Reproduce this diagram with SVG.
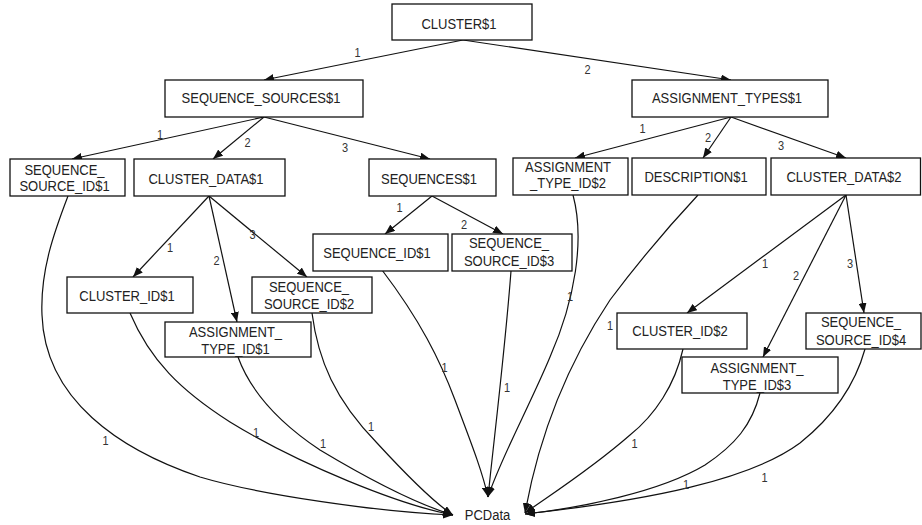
<svg xmlns="http://www.w3.org/2000/svg" width="922" height="525" viewBox="0 0 922 525">
<defs>
<style>
.box{fill:#fff;stroke:#111;stroke-width:1.3}
.t{font-family:"Liberation Sans",Arial,sans-serif;font-size:13px;fill:#222;text-anchor:middle}
.l{font-family:"Liberation Sans",Arial,sans-serif;font-size:11px;fill:#333;text-anchor:middle}
.e{fill:none;stroke:#111;stroke-width:1.2;marker-end:url(#arr)}
</style>
<marker id="arr" markerUnits="userSpaceOnUse" markerWidth="10" markerHeight="8" refX="10" refY="4" orient="auto">
<path d="M0,0 L10,4 L0,8 Z" fill="#111"/>
</marker>
</defs>
<rect width="922" height="525" fill="#fff"/>

<g id="connectors">
<path class="e" d="M463,40 L264,80"/>
<path class="e" d="M463,40 L731,80"/>
<path class="e" d="M264,117 L72,159"/>
<path class="e" d="M264,117 L213,159"/>
<path class="e" d="M264,117 L430,159"/>
<path class="e" d="M731,117 L575,158"/>
<path class="e" d="M731,117 L703,158"/>
<path class="e" d="M731,117 L846,158"/>
<path class="e" d="M209,196 L133,277"/>
<path class="e" d="M209,196 L237,322"/>
<path class="e" d="M209,196 L307,277"/>
<path class="e" d="M432,196 L385,234"/>
<path class="e" d="M432,196 L503,234"/>
<path class="e" d="M846,195 L687,313"/>
<path class="e" d="M846,195 L763,357"/>
<path class="e" d="M846,195 L864,313"/>
<path class="e" d="M68,196 C55,230 40,270 42,315 C45,400 120,450 200,477 C260,495 380,512 453,515"/>
<path class="e" d="M130,313 C150,360 180,390 230,422 C300,465 400,505 453,515"/>
<path class="e" d="M238,357 C250,390 275,420 320,450 C370,480 420,505 453,515"/>
<path class="e" d="M312,313 C318,360 335,400 377,443 C400,468 430,500 453,515"/>
<path class="e" d="M382,270 C420,320 440,360 455,400 C470,440 482,470 488,497"/>
<path class="e" d="M511,271 C505,350 495,430 488,497"/>
<path class="e" d="M573,195 C585,240 575,300 550,357 C530,405 500,460 488,497"/>
<path class="e" d="M698,195 C670,225 640,260 610,300 C570,360 540,430 525,513"/>
<path class="e" d="M683,349 C675,385 655,415 630,435 C590,470 550,495 525,513"/>
<path class="e" d="M760,393 C752,425 735,445 705,465 C660,492 580,508 525,514"/>
<path class="e" d="M865,349 C855,385 835,415 800,443 C750,480 650,500 525,514"/>
</g>

<g id="labels">
<text class="l" transform="translate(357.5,57.3) scale(1,1.13)">1</text>
<text class="l" transform="translate(587.5,74) scale(1,1.13)">2</text>
<text class="l" transform="translate(160,139) scale(1,1.13)">1</text>
<text class="l" transform="translate(247.5,147) scale(1,1.13)">2</text>
<text class="l" transform="translate(345,152) scale(1,1.13)">3</text>
<text class="l" transform="translate(642.5,133) scale(1,1.13)">1</text>
<text class="l" transform="translate(708,141.7) scale(1,1.13)">2</text>
<text class="l" transform="translate(781,150) scale(1,1.13)">3</text>
<text class="l" transform="translate(170,251.7) scale(1,1.13)">1</text>
<text class="l" transform="translate(216.5,265) scale(1,1.13)">2</text>
<text class="l" transform="translate(252.5,239.3) scale(1,1.13)">3</text>
<text class="l" transform="translate(399.5,211.7) scale(1,1.13)">1</text>
<text class="l" transform="translate(464,229.3) scale(1,1.13)">2</text>
<text class="l" transform="translate(765,267.7) scale(1,1.13)">1</text>
<text class="l" transform="translate(796,280) scale(1,1.13)">2</text>
<text class="l" transform="translate(850,267.7) scale(1,1.13)">3</text>
<text class="l" transform="translate(105.5,445) scale(1,1.13)">1</text>
<text class="l" transform="translate(256,436.7) scale(1,1.13)">1</text>
<text class="l" transform="translate(323,448) scale(1,1.13)">1</text>
<text class="l" transform="translate(371,430.7) scale(1,1.13)">1</text>
<text class="l" transform="translate(444.5,371.7) scale(1,1.13)">1</text>
<text class="l" transform="translate(507,391.7) scale(1,1.13)">1</text>
<text class="l" transform="translate(570,300.7) scale(1,1.13)">1</text>
<text class="l" transform="translate(610,330) scale(1,1.13)">1</text>
<text class="l" transform="translate(634.5,448.3) scale(1,1.13)">1</text>
<text class="l" transform="translate(686,489.3) scale(1,1.13)">1</text>
<text class="l" transform="translate(764.5,481.7) scale(1,1.13)">1</text>
</g>

<g id="n1"><rect class="box" x="392" y="4" width="140" height="36"/><text class="t" transform="translate(459,29) scale(1,1.13)">CLUSTER$1</text></g>
<g id="n2"><rect class="box" x="165" y="80" width="198" height="37"/><text class="t" transform="translate(261,102.5) scale(1,1.13)">SEQUENCE_SOURCES$1</text></g>
<g id="n3"><rect class="box" x="632" y="80" width="196" height="37"/><text class="t" transform="translate(727,102.5) scale(1,1.13)">ASSIGNMENT_TYPES$1</text></g>
<g id="n4"><rect class="box" x="10" y="159" width="115" height="37"/><text class="t" transform="translate(64.5,174.5) scale(1,1.13)">SEQUENCE_</text><text class="t" transform="translate(64.5,190.5) scale(1,1.13)">SOURCE_ID$1</text></g>
<g id="n5"><rect class="box" x="134" y="159" width="151" height="37"/><text class="t" transform="translate(206,184) scale(1,1.13)">CLUSTER_DATA$1</text></g>
<g id="n6"><rect class="box" x="369" y="159" width="127" height="37"/><text class="t" transform="translate(429,183.5) scale(1,1.13)">SEQUENCES$1</text></g>
<g id="n7"><rect class="box" x="513" y="158" width="115" height="37"/><text class="t" transform="translate(568,171.7) scale(1,1.13)">ASSIGNMENT</text><text class="t" transform="translate(568,188.3) scale(1,1.13)">_TYPE_ID$2</text></g>
<g id="n8"><rect class="box" x="632" y="158" width="134" height="37"/><text class="t" transform="translate(696,181.7) scale(1,1.13)">DESCRIPTION$1</text></g>
<g id="n9"><rect class="box" x="771" y="158" width="149.5" height="37"/><text class="t" transform="translate(844,181.7) scale(1,1.13)">CLUSTER_DATA$2</text></g>
<g id="n10"><rect class="box" x="313" y="234" width="135" height="37"/><text class="t" transform="translate(377,258.3) scale(1,1.13)">SEQUENCE_ID$1</text></g>
<g id="n11"><rect class="box" x="452" y="234" width="120" height="37"/><text class="t" transform="translate(509,248.3) scale(1,1.13)">SEQUENCE_</text><text class="t" transform="translate(509,266) scale(1,1.13)">SOURCE_ID$3</text></g>
<g id="n12"><rect class="box" x="67" y="277" width="126" height="36"/><text class="t" transform="translate(127,301) scale(1,1.13)">CLUSTER_ID$1</text></g>
<g id="n13"><rect class="box" x="252" y="277" width="120" height="36"/><text class="t" transform="translate(309,291.7) scale(1,1.13)">SEQUENCE_</text><text class="t" transform="translate(309,309.3) scale(1,1.13)">SOURCE_ID$2</text></g>
<g id="n14"><rect class="box" x="165" y="322" width="146" height="35"/><text class="t" transform="translate(235.5,336.7) scale(1,1.13)">ASSIGNMENT_</text><text class="t" transform="translate(235.5,354) scale(1,1.13)">TYPE_ID$1</text></g>
<g id="n15"><rect class="box" x="617" y="313" width="130" height="36"/><text class="t" transform="translate(680,336) scale(1,1.13)">CLUSTER_ID$2</text></g>
<g id="n16"><rect class="box" x="806" y="313" width="115" height="36"/><text class="t" transform="translate(861,327.3) scale(1,1.13)">SEQUENCE_</text><text class="t" transform="translate(861,345) scale(1,1.13)">SOURCE_ID$4</text></g>
<g id="n17"><rect class="box" x="682" y="357" width="156" height="36"/><text class="t" transform="translate(757,372.7) scale(1,1.13)">ASSIGNMENT_</text><text class="t" transform="translate(757,390) scale(1,1.13)">TYPE_ID$3</text></g>
<g id="n18"><text class="t" transform="translate(487.5,520) scale(1,1.13)">PCData</text></g>
</svg>
